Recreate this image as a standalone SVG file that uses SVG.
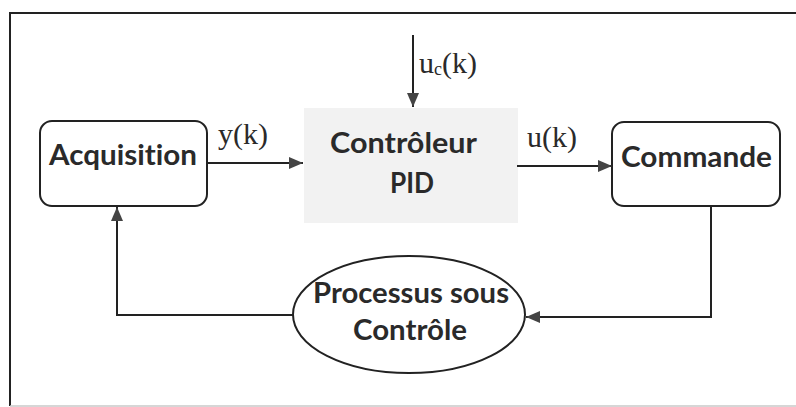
<svg xmlns="http://www.w3.org/2000/svg" width="796" height="407" viewBox="0 0 796 407">
<style>
.box{fill:#fff;stroke:#222;stroke-width:2}
.lbl{font-family:Lato,"Open Sans","Liberation Sans",sans-serif;font-weight:700;font-size:28px;fill:#2a2a2a;text-anchor:middle;font-variant-ligatures:none}
.ser{font-family:"Liberation Serif","Times New Roman",serif;font-size:30px;fill:#2a2a2a}
.ln{fill:none;stroke:#222;stroke-width:2}
</style>
<defs>
<marker id="ah" viewBox="0 0 14 12" refX="14" refY="6" markerWidth="14" markerHeight="12" markerUnits="userSpaceOnUse" orient="auto">
<path d="M0,0 L14,6 L0,12 Z" fill="#444"/>
</marker>
</defs>
<rect width="796" height="407" fill="#fff"/>
<g id="frame">
<path d="M10,406 V13 H796" class="ln"/>
<path d="M10,406 H796" fill="none" stroke="#c8c8c8" stroke-width="1.5"/>
</g>
<g id="acquisition">
<rect x="40" y="121" width="167" height="85" rx="12" class="box"/>
<text x="123" y="165" class="lbl" textLength="148" lengthAdjust="spacingAndGlyphs">Acquisition</text>
</g>
<g id="controleur">
<rect x="304" y="108" width="214" height="115" fill="#f2f2f2"/>
<text x="403.5" y="153" class="lbl" textLength="147" lengthAdjust="spacingAndGlyphs">Contrôleur</text>
<text x="412" y="193" class="lbl" textLength="44" lengthAdjust="spacingAndGlyphs">PID</text>
</g>
<g id="commande">
<rect x="612" y="122" width="168" height="84" rx="12" class="box"/>
<text x="696.5" y="167" class="lbl" textLength="151" lengthAdjust="spacingAndGlyphs">Commande</text>
</g>
<g id="processus">
<ellipse cx="409" cy="314.5" rx="116" ry="58.5" class="box"/>
<text x="411" y="303" class="lbl" textLength="196" lengthAdjust="spacingAndGlyphs">Processus sous</text>
<text x="410" y="340" class="lbl" textLength="114" lengthAdjust="spacingAndGlyphs">Contrôle</text>
</g>
<g id="connectors">
<line x1="413" y1="35" x2="413" y2="107" class="ln" marker-end="url(#ah)"/>
<line x1="207" y1="163" x2="303" y2="163" class="ln" marker-end="url(#ah)"/>
<line x1="517" y1="166" x2="612" y2="166" class="ln" marker-end="url(#ah)"/>
<polyline points="711,206 711,317 526,317" class="ln" marker-end="url(#ah)"/>
<polyline points="293,315 117,315 117,207" class="ln" marker-end="url(#ah)"/>
</g>
<g id="labels">
<text x="218" y="144" class="ser">y(k)</text>
<text x="527" y="147" class="ser">u(k)</text>
<text x="419" y="73" class="ser">u<tspan font-size="18" dy="2">c</tspan><tspan dy="-2">(k)</tspan></text>
</g>
</svg>
